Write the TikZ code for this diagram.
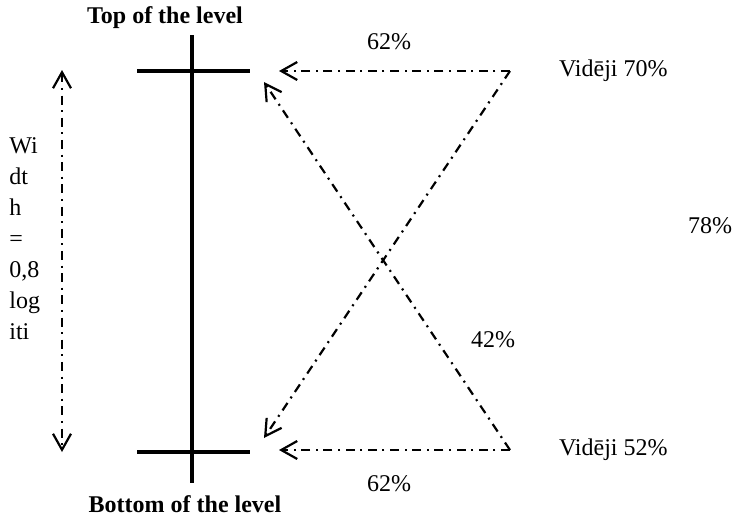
\documentclass[tikz,border=0pt]{standalone}
\usepackage{fontspec}
\setmainfont{Liberation Serif}
\usepackage{tikz}
\usetikzlibrary{arrows.meta}

\tikzset{
  levelbar/.style={line width=1.6pt},
  flow/.style={line width=1.1pt,dash pattern=on 4.5pt off 2.8pt on 1pt off 2.8pt,
    -{Straight Barb[length=8pt,width=9pt,line width=1.1pt]}},
  span/.style={line width=1.1pt,dash pattern=on 4.5pt off 2.8pt on 1pt off 2.8pt,
    {Straight Barb[length=8pt,width=9pt,line width=1.1pt]}-{Straight Barb[length=8pt,width=9pt,line width=1.1pt]}},
  pct/.style={inner sep=1pt}
}

\begin{document}
\begin{tikzpicture}[x=0.5pt,y=-0.5pt,font=\fontsize{12}{15.5}\selectfont]
  \useasboundingbox (0,0) rectangle (735,520);
  \coordinate (topL) at (137,71);
  \coordinate (topR) at (250,71);
  \coordinate (botL) at (137,452);
  \coordinate (botR) at (250,452);
  \coordinate (stemT) at (192,35);
  \coordinate (stemB) at (192,483);
  \draw[levelbar] (topL) -- (topR);
  \draw[levelbar] (botL) -- (botR);
  \draw[levelbar] (stemT) -- (stemB);
  \node[font=\fontsize{12}{15.5}\selectfont\bfseries] (toplabel) at (165,18) {Top of the level};
  \node[font=\fontsize{12}{15.5}\selectfont\bfseries] (botlabel) at (185,504) {Bottom of the level};

  \coordinate (wtop) at (62,70);
  \coordinate (wbot) at (62,452);
  \draw[span] (wtop) -- (wbot);
  \node[align=left,anchor=north west,inner sep=0pt] (width) at (9,137) {Wi\\dt\\h\\=\\0,8\\log\\iti};

  \coordinate (hiR) at (510,71);
  \coordinate (loR) at (510,450);
  \coordinate (hiL) at (279,71);
  \coordinate (loL) at (279,450);
  \coordinate (hiX) at (264,82);
  \coordinate (loX) at (264,438);
  \draw[flow] (hiR) -- (hiL);
  \draw[flow] (loR) -- (loL);
  \draw[flow] (hiR) -- (loX);
  \draw[flow] (loR) -- (hiX);

  \node[anchor=west] (hi) at (552,71) {Vidēji 70\%};
  \node[anchor=west] (lo) at (552,450) {Vidēji 52\%};
  \node[pct] (p1) at (389,42) {62\%};
  \node[pct] (p2) at (389,484) {62\%};
  \node[pct] (p3) at (493,340) {42\%};
  \node[pct] (p4) at (710,226) {78\%};
\end{tikzpicture}
\end{document}
